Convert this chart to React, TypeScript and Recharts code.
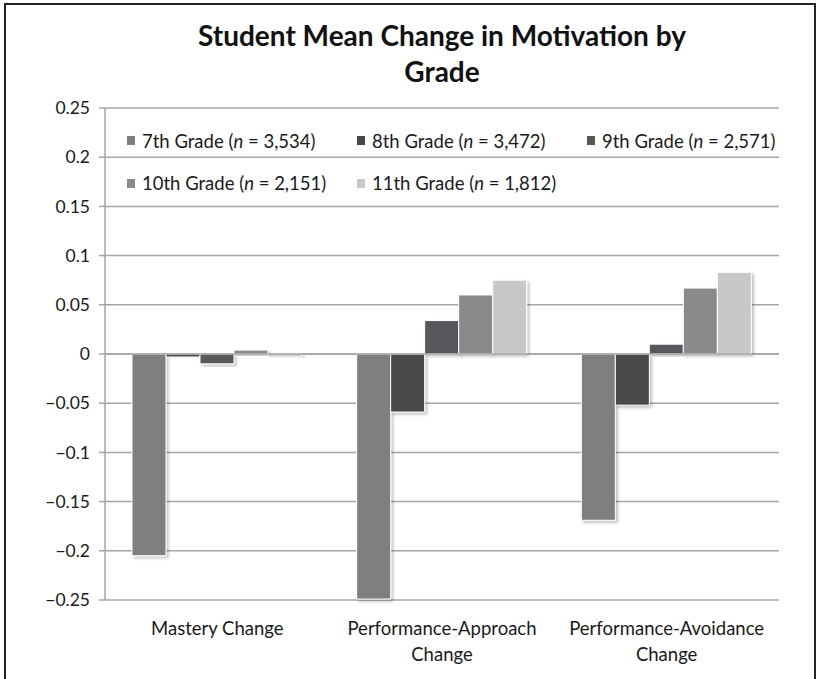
import React from 'react';
import { BarChart, Bar, XAxis, YAxis, CartesianGrid, Legend, ReferenceLine } from 'recharts';

const categories = ['Mastery Change', 'Performance-Approach Change', 'Performance-Avoidance Change'];
const grade7 = [-0.205, -0.249, -0.169];
const grade8 = [-0.003, -0.059, -0.052];
const grade9 = [-0.01, 0.034, 0.01];
const grade10 = [0.004, 0.06, 0.067];
const grade11 = [-0.003, 0.075, 0.083];

const seriesKeys = ['g7', 'g8', 'g9', 'g10', 'g11'];
const seriesNames = ['7th Grade', '8th Grade', '9th Grade', '10th Grade', '11th Grade'];
const seriesN = ['3,534', '3,472', '2,571', '2,151', '1,812'];
const seriesColors = ['#7f7f82', '#48484a', '#58585b', '#8a8a8c', '#c8c8ca'];
const yTicks = [-0.25, -0.2, -0.15, -0.1, -0.05, 0, 0.05, 0.1, 0.15, 0.2, 0.25];

const title1 = 'Student Mean Change in Motivation by';
const title2 = 'Grade';

const seriesValues = [grade7, grade8, grade9, grade10, grade11];
const data = categories.map((c, i) => {
  const row: any = { category: c };
  seriesKeys.forEach((k, s) => {
    row[k] = seriesValues[s][i];
  });
  return row;
});

const FONT = 'Lato, "Open Sans", sans-serif';

const fmtY = (v: number) => (v < 0 ? '\u2212' + Math.abs(v) : String(v));

const CategoryTick = (props: any) => {
  const { x, y, payload } = props;
  const label: string = payload.value;
  const idx = label.lastIndexOf(' ');
  const lines = label.length > 16 ? [label.slice(0, idx), label.slice(idx + 1)] : [label];
  return (
    <text x={x} y={y} textAnchor="middle" fontFamily={FONT} fontSize={18.5} fill="#1a1a1a">
      {lines.map((l, i) => (
        <tspan key={i} x={x} y={y + 34.5 + i * 26}>
          {l}
        </tspan>
      ))}
    </text>
  );
};

const LegendContent = () => {
  const colX = [0, 230, 460];
  return (
    <div style={{ position: 'relative', width: 660, height: 70, fontFamily: FONT, fontSize: 18.5, color: '#1a1a1a' }}>
      {seriesKeys.map((k, i) => {
        const row = Math.floor(i / 3);
        const col = i % 3;
        return (
          <div
            key={k}
            style={{
              position: 'absolute',
              left: colX[col],
              top: row * 42.5,
              height: 22,
              lineHeight: '22px',
              whiteSpace: 'nowrap',
              display: 'flex',
              alignItems: 'center',
            }}
          >
            <span style={{ display: 'inline-block', width: 8, height: 9, background: seriesColors[i], marginRight: 7 }} />
            <span>
              {seriesNames[i]} (<i>n</i> = {seriesN[i]})
            </span>
          </div>
        );
      })}
    </div>
  );
};

export default function App() {
  return (
    <div style={{ position: 'absolute', left: 0, top: 0, width: 817, height: 679, overflow: 'hidden', background: '#fff' }}>
      <div
        style={{
          position: 'absolute',
          left: 4,
          top: 3,
          width: 812,
          height: 720,
          border: '2px solid #222',
          boxSizing: 'border-box',
        }}
      />
      <div
        style={{
          position: 'absolute',
          left: 105,
          width: 674,
          top: 17,
          textAlign: 'center',
          fontFamily: FONT,
          fontWeight: 700,
          fontSize: 28,
          lineHeight: '36px',
          color: '#111',
        }}
      >
        <div>{title1}</div>
        <div>{title2}</div>
      </div>
      <div style={{ position: 'absolute', left: 0, top: 0 }}>
        <BarChart
          width={817}
          height={679}
          data={data}
          margin={{ top: 108, right: 38, bottom: 39, left: 0 }}
          barCategoryGap={27}
          barGap={0}
        >
          <defs>
            <filter id="barShadow" x="-20%" y="-20%" width="150%" height="150%">
              <feDropShadow dx="2" dy="2" stdDeviation="1.8" floodColor="#000" floodOpacity="0.25" />
            </filter>
          </defs>
          <CartesianGrid vertical={false} stroke="#a6a6a6" strokeWidth={1.5} />
          <XAxis
            dataKey="category"
            axisLine={false}
            tickLine={false}
            tickSize={0}
            tickMargin={0}
            height={40}
            interval={0}
            tick={<CategoryTick />}
          />
          <YAxis
            width={105}
            domain={[-0.25, 0.25]}
            ticks={yTicks}
            interval={0}
            tickFormatter={fmtY}
            axisLine={{ stroke: '#a6a6a6', strokeWidth: 1.5 }}
            tickLine={{ stroke: '#a6a6a6', strokeWidth: 1.5 }}
            tickSize={6}
            tickMargin={9}
            tick={{ fontFamily: FONT, fontSize: 17.5, fill: '#1a1a1a' }}
          />
          <Legend
            layout="horizontal"
            verticalAlign="middle"
            align="center"
            content={<LegendContent />}
            wrapperStyle={{ position: 'absolute', left: 127, top: 129.5, width: 660, height: 70 }}
          />
          {seriesKeys.map((k, i) => (
            <Bar
              key={k}
              dataKey={k}
              name={seriesNames[i]}
              fill={seriesColors[i]}
              stroke="#ffffff"
              strokeWidth={1}
              isAnimationActive={false}
              style={{ filter: 'url(#barShadow)' }}
            />
          ))}
          <ReferenceLine y={0} stroke="#a6a6a6" strokeWidth={1.5} />
        </BarChart>
      </div>
    </div>
  );
}
